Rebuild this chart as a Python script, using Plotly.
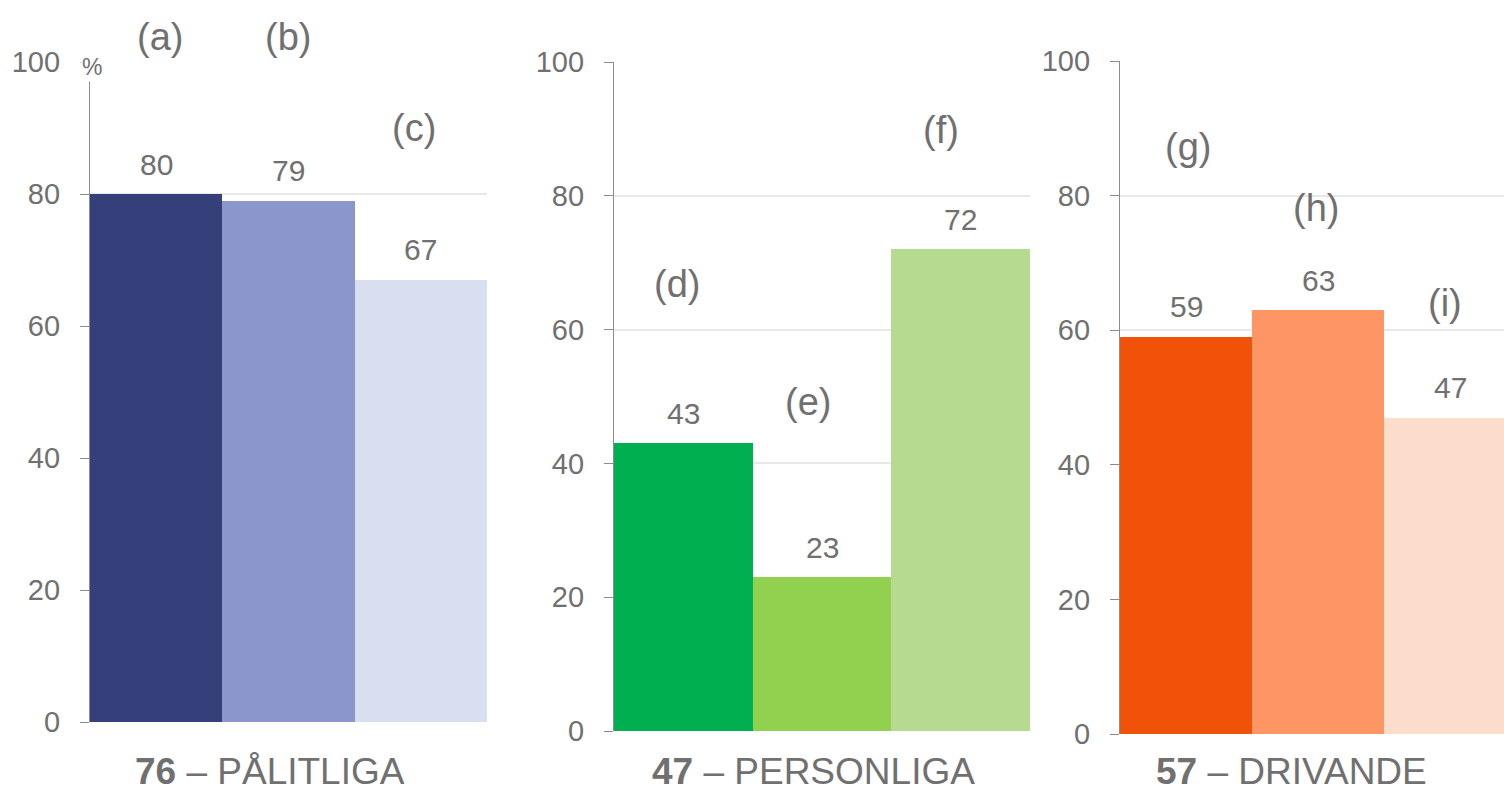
import plotly.graph_objects as go

# --- data -------------------------------------------------------------
groups = ["PÅLITLIGA", "PERSONLIGA", "DRIVANDE"]
group_scores = [76, 47, 57]
bar_letters = [["(a)", "(b)", "(c)"], ["(d)", "(e)", "(f)"], ["(g)", "(h)", "(i)"]]
bar_values = [[80, 79, 67], [43, 23, 72], [59, 63, 47]]
letter_heights = [[103.8, 103.8, 90.0], [66.8, 49.2, 89.8], [87.2, 78.2, 64.0]]
bar_colors = [["#35407A", "#8A96CC", "#D9DEF0"],
              ["#00B050", "#92D050", "#B6DB90"],
              ["#F0520A", "#FD9564", "#FCDCCB"]]
y_ticks = [0, 20, 40, 60, 80, 100]
Y_MAX = 100

# --- layout geometry (pixels in a 1504x792 canvas) --------------------
W, H = 1504, 792
panel_x = [(90, 487), (614, 1030), (1120, 1504)]
panel_y = [(62, 722), (62, 731), (61, 734)]
x_ranges = [[-0.5, 2.5], [-0.5, 2.5], [-0.5, 2.409]]
letter_xshift = [[4, -1, -7], [-6, -14, -20], [2, -2, -5]]
title_centers = [270, 813, 1291]

FONT = "Liberation Sans, Arial, sans-serif"
GREY = "#707070"

fig = go.Figure()
annotations = []

for i in range(3):
    ax = "" if i == 0 else str(i + 1)
    xs = [0, 1, 2]
    fig.add_trace(go.Bar(
        x=xs, y=bar_values[i], width=1.0,
        marker=dict(color=bar_colors[i], line=dict(width=0)),
        xaxis="x" + ax, yaxis="y" + ax, showlegend=False, hoverinfo="skip",
    ))
    x0, x1 = panel_x[i]
    yt, yb = panel_y[i]
    fig.layout["xaxis" + ax] = dict(
        domain=[x0 / W, x1 / W], range=x_ranges[i], anchor="y" + ax,
        showticklabels=False, showgrid=False, zeroline=False, showline=False,
        ticks="", fixedrange=True, automargin=False,
    )
    fig.layout["yaxis" + ax] = dict(
        domain=[1 - yb / H, 1 - yt / H], range=[0, Y_MAX], anchor="x" + ax,
        tickvals=y_ticks, ticks="outside", ticklen=9, tickwidth=1.3,
        tickcolor="#8C8C8C", showline=True, linecolor="#8C8C8C", linewidth=1.3,
        showgrid=True, gridcolor="#E8E8E8", gridwidth=1.5, zeroline=False,
        tickfont=dict(family=FONT, size=29, color=GREY),
        ticklabelstandoff=14, fixedrange=True, automargin=False,
    )
    # value labels above bars, letter tags placed in the axis' domain units
    for j in range(3):
        annotations.append(dict(
            x=xs[j], y=bar_values[i][j], xref="x" + ax, yref="y" + ax,
            text=str(bar_values[i][j]), showarrow=False, yshift=30,
            xanchor="center", yanchor="middle",
            font=dict(family=FONT, size=30, color=GREY),
        ))
        annotations.append(dict(
            x=xs[j], y=letter_heights[i][j] / Y_MAX,
            xref="x" + ax, yref="y" + ax + " domain",
            text=bar_letters[i][j], showarrow=False, xshift=letter_xshift[i][j],
            xanchor="center", yanchor="middle",
            font=dict(family=FONT, size=38, color=GREY),
        ))
    # group title under each panel
    annotations.append(dict(
        x=title_centers[i] / W, y=1 - 771 / H, xref="paper", yref="paper",
        text=f"<b>{group_scores[i]}</b> – {groups[i]}", showarrow=False,
        xanchor="center", yanchor="middle",
        font=dict(family=FONT, size=37, color=GREY),
    ))

# percent sign at the top of the first axis
annotations.append(dict(
    x=92 / W, y=1 - 67 / H, xref="paper", yref="paper", text="%",
    showarrow=False, xanchor="center", yanchor="middle", bgcolor="white",
    font=dict(family=FONT, size=23, color=GREY),
))

fig.update_layout(
    width=W, height=H, margin=dict(l=0, r=0, t=0, b=0, autoexpand=False),
    paper_bgcolor="white", plot_bgcolor="white",
    bargap=0, annotations=annotations,
)

fig.write_html("out.html", config={"displayModeBar": False})
